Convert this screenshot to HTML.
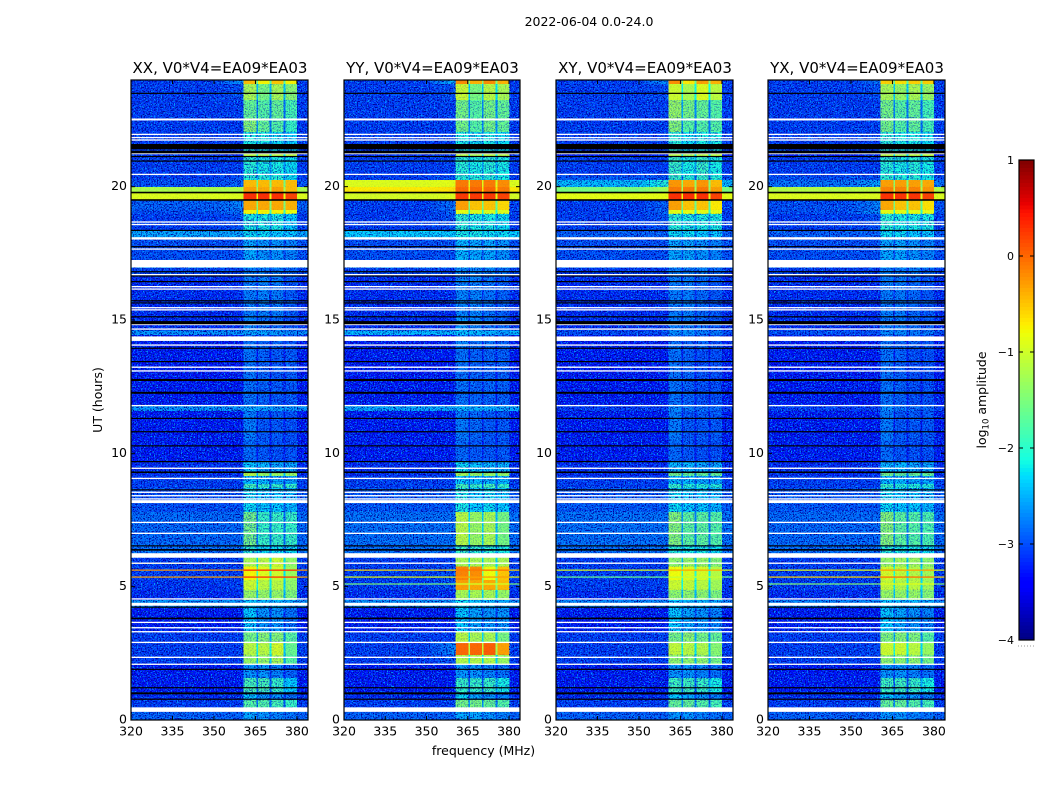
<!DOCTYPE html>
<html lang="en">
<head>
<meta charset="utf-8">
<title>2022-06-04 0.0-24.0</title>
<style>
html,body{margin:0;padding:0;background:#fff;width:1050px;height:800px;overflow:hidden}
svg{display:block}
text{font-family:"DejaVu Sans","Liberation Sans",sans-serif;fill:#000}
</style>
</head>
<body>
<svg id="figure" xmlns="http://www.w3.org/2000/svg" width="1050" height="800" viewBox="0 0 1050 800">
  <defs>
    <filter id="speckle-light" x="0" y="0" width="100%" height="100%" color-interpolation-filters="sRGB">
      <feTurbulence type="fractalNoise" baseFrequency="0.7 0.8" numOctaves="2" seed="4"/>
      <feColorMatrix type="matrix" values="0 0 0 0 0  0 0 0 0 0.62  0 0 0 0 1  7 0 0 0 -3.7"/>
    </filter>
    <filter id="speckle-dark" x="0" y="0" width="100%" height="100%" color-interpolation-filters="sRGB">
      <feTurbulence type="fractalNoise" baseFrequency="0.75 0.7" numOctaves="2" seed="11"/>
      <feColorMatrix type="matrix" values="0 0 0 0 0  0 0 0 0 0  0 0 0 0 0.6  7 0 0 0 -3.6"/>
    </filter>
  </defs>
  <text x="589" y="26" font-size="12.5" text-anchor="middle">2022-06-04 0.0-24.0</text>
  <text x="483.5" y="755" font-size="12.5" text-anchor="middle">frequency (MHz)</text>
  <text transform="translate(102,400) rotate(-90)" font-size="12.5" text-anchor="middle">UT (hours)</text>
  <text transform="translate(986,400) rotate(-90)" font-size="12.5" text-anchor="middle">log<tspan font-size="8.5" dy="2.5">10</tspan><tspan dy="-2.5"> amplitude</tspan></text>
  <g id="panels"></g>
  <g id="colorbar"></g>
</svg>
<script>
// ---- chart data ----
const panelTitles = ["XX, V0*V4=EA09*EA03", "YY, V0*V4=EA09*EA03", "XY, V0*V4=EA09*EA03", "YX, V0*V4=EA09*EA03"];
const freqTicks = [320, 335, 350, 365, 380];
const utTicks = [0, 5, 10, 15, 20];
const colorbarTicks = [1, 0, -1, -2, -3, -4];
// UT hour at the top of each time block (last value closes the final block)
const utEdges = [24,23.85,23.25,22.58,22.05,21.26,21.11,20.4,20.25,19.99,19.8,19.5,19.13,18.98,18.34,18.08,17.25,16.95,16.65,15.15,14.6,14.44,13.95,11.78,11.59,10.5,9.68,9.3,9.15,8.85,8.7,7.8,6.56,6.15,5.75,5.25,4.88,4.5,4.2,3.3,2.93,2.44,2.1,1.58,1.05,0.75,0.3,0];
// frequency edges (MHz): shoulder start, then the four spectral windows
const shoulderStart = 350;
const windowEdges = [[360.6,365.3],[365.9,370.1],[370.8,375.1],[375.8,380.1]];
const freqMin = 320, freqMax = 384;
// log10 amplitude per time block: [off-band, shoulder, window1, window2, window3, window4]
const ampXX = [
[-3.1,-2.6,-0.45,-0.75,-0.5,-0.75],[-3.1,-3,-1.2,-1.5,-1.2,-1.4],[-3.1,-3.1,-1.6,-1.7,-1.6,-1.8],[-3.1,-3.1,-1.4,-1.6,-1.7,-1.9],
[-3.1,-3.1,-2.1,-2.1,-2.2,-2.3],[-3.2,-3.2,-1.1,-1.1,-1.1,-1.1],[-3.1,-3.1,-2,-2.1,-2.1,-2.2],[-3.1,-3,-2,-2,-2,-2.2],
[-3,-2.9,-0.45,-0.45,-0.45,-0.45],[-1.2,-1.2,-0.3,-0.35,-0.3,-0.45],[-0.9,-0.9,0.3,0.3,0.3,0.2],[-2.9,-2.7,-0.35,-0.35,-0.35,-0.4],
[-3,-2.8,-0.75,-0.75,-0.75,-0.8],[-3.1,-3,-2.1,-2.1,-2.1,-2.3],[-2.5,-2.5,-2.2,-2.2,-2.3,-2.3],[-3,-3,-2.5,-2.6,-2.6,-2.7],
[-2.6,-2.6,-2.4,-2.4,-2.5,-2.6],[-3.05,-3.05,-2.75,-2.75,-2.75,-2.85],[-3.2,-3.2,-2.75,-2.7,-2.75,-2.95],[-3.2,-3.2,-2.7,-2.8,-2.85,-3],
[-2.6,-2.6,-2.5,-2.5,-2.55,-2.65],[-3.3,-3.3,-2.8,-2.9,-2.9,-3],[-3.3,-3.3,-2.8,-2.9,-2.95,-2.95],[-2.6,-2.6,-2.5,-2.55,-2.55,-2.6],
[-3.3,-3.3,-2.75,-2.95,-2.95,-3],[-3.3,-3.3,-2.85,-2.95,-3,-3],[-3.2,-3.2,-2.3,-2.4,-2.5,-2.5],[-3.2,-3.2,-1.1,-1.3,-1.3,-1.3],
[-3.1,-3.1,-2.4,-2.4,-2.5,-2.5],[-3.1,-3.1,-1.8,-1.9,-1.9,-1.9],[-3,-3,-2.2,-2.3,-2.3,-2.4],[-2.85,-2.85,-1.5,-1.9,-1.9,-1.9],
[-2.8,-2.8,-2,-2.2,-2.2,-2.2],[-3.1,-3.1,-1.2,-1.1,-1,-1.35],[-3.1,-3.1,-0.75,-0.9,-1,-1.3],[-3.15,-3.1,-1,-1.1,-1.1,-1.35],
[-3.2,-3.2,-1.3,-1.3,-1.3,-1.45],[-2.6,-2.6,-2.3,-2.4,-2.4,-2.5],[-3.3,-3.3,-2.3,-2.6,-2.6,-2.8],[-3.1,-3.1,-1.5,-1.4,-1.4,-1.7],
[-3.1,-3.1,-1.1,-1.1,-0.95,-1.6],[-3.1,-3.1,-1.3,-1.3,-1.2,-1.7],[-3.3,-3.3,-2.6,-2.6,-2.7,-2.9],[-3.3,-3.3,-1.8,-1.8,-1.9,-2.3],
[-3.2,-3.2,-2.3,-2.6,-2.6,-2.8],[-3.1,-3.1,-1.7,-1.7,-1.8,-1.9],[-2.9,-2.9,-2.5,-2.6,-2.7,-2.8]];
const ampYY = [
[-3.1,-2.4,-0.2,-0.4,-0.2,-0.4],[-3.1,-3,-1,-1.5,-1.1,-1.2],[-3.1,-3.1,-1.5,-1.7,-1.5,-1.6],[-3.1,-3.1,-1.5,-1.7,-1.5,-1.6],
[-3.1,-3.1,-2.1,-2.2,-2.1,-2.2],[-3.2,-3.2,-1.1,-1.2,-1.1,-1.1],[-3.1,-3.1,-2,-2.1,-2,-2.1],[-3.1,-3,-2,-2,-2,-2.1],
[-0.9,-0.85,-0.1,-0.1,-0.1,-0.2],[-0.7,-0.65,0,0,0,-0.1],[-0.95,-0.9,0.25,0.25,0.25,0.2],[-3.1,-2.8,-0.3,-0.5,-0.5,-0.6],
[-3.1,-2.9,-0.85,-0.9,-0.9,-0.9],[-3.1,-3,-2,-2.1,-2.1,-2.2],[-2.3,-2.3,-2.1,-2.1,-2.2,-2.2],[-3,-3,-2.4,-2.5,-2.5,-2.6],
[-2.6,-2.6,-2.3,-2.3,-2.4,-2.5],[-3.05,-3.05,-2.65,-2.7,-2.7,-2.8],[-3.2,-3.2,-2.7,-2.7,-2.8,-2.9],[-3.2,-3.2,-2.6,-2.7,-2.8,-2.9],
[-2.4,-2.4,-2.3,-2.35,-2.45,-2.55],[-3.3,-3.3,-2.7,-2.8,-2.8,-2.9],[-3.3,-3.3,-2.8,-2.9,-2.9,-2.9],[-2.5,-2.5,-2.4,-2.45,-2.5,-2.5],
[-3.3,-3.3,-2.75,-2.85,-2.95,-2.95],[-3.3,-3.3,-2.85,-2.95,-2.95,-2.95],[-3.2,-3.2,-2.2,-2.3,-2.4,-2.4],[-3.2,-3.2,-1.2,-1.3,-1.3,-1.3],
[-3.1,-3.1,-2.3,-2.4,-2.4,-2.4],[-3.1,-3.1,-1.8,-1.9,-1.8,-1.9],[-2.95,-2.95,-2.1,-2.3,-2.2,-2.3],[-2.8,-2.8,-1.1,-1.3,-1.2,-1.5],
[-2.8,-2.8,-1.9,-2,-2,-2.1],[-3.1,-3.1,-1.2,-1.2,-1.2,-1.2],[-3.1,-3,-0.15,-0.2,-0.8,-0.5],[-3.1,-3,-0.3,-0.35,-0.35,-0.45],
[-3.2,-3.2,-1.2,-1.2,-1.2,-1.3],[-2.6,-2.6,-2.2,-2.3,-2.4,-2.5],[-3.3,-3.3,-2.3,-2.5,-2.6,-2.6],[-3.1,-3.1,-1.1,-1.2,-1.2,-1.5],
[-3.1,-2.7,0,0,0.05,-0.3],[-3.1,-3,-1.15,-1.15,-1.15,-1.3],[-3.3,-3.3,-2.6,-2.6,-2.7,-2.8],[-3.3,-3.3,-1.9,-1.9,-1.9,-2.1],
[-3.2,-3.2,-2.2,-2.5,-2.6,-2.7],[-3.1,-3.1,-1.5,-1.5,-1.6,-1.7],[-2.9,-2.9,-2.5,-2.5,-2.6,-2.7]];
const ampXY = [
[-3.1,-2.6,-0.2,-0.7,-0.3,-0.4],[-3.1,-3,-1,-1.2,-0.9,-1.1],[-3.1,-3.1,-1.3,-1.5,-1.6,-1.7],[-3.1,-3.1,-1.4,-1.7,-1.7,-1.7],
[-3.1,-3.1,-2,-2.2,-2.1,-2.1],[-3.3,-3.3,-1.1,-1.2,-1.1,-1.1],[-3.1,-3.1,-1.9,-2.1,-1.9,-2.1],[-2.95,-2.95,-1.9,-2,-1.9,-2],
[-2.4,-2,-0.25,-0.35,-0.25,-0.45],[-1.5,-1.25,-0.1,-0.1,-0.1,-0.3],[-0.85,-0.85,0.3,0.3,0.3,0.2],[-3.1,-2.9,-0.3,-0.5,-0.5,-0.7],
[-3.1,-2.9,-0.85,-0.85,-0.85,-0.85],[-3.1,-3,-2,-2.1,-2.1,-2.1],[-2.9,-2.9,-2.2,-2.2,-2.3,-2.3],[-3,-3,-2.5,-2.5,-2.6,-2.7],
[-2.8,-2.8,-2.4,-2.4,-2.5,-2.6],[-3.1,-3.1,-2.75,-2.75,-2.75,-2.85],[-3.2,-3.2,-2.75,-2.75,-2.85,-2.95],[-3.2,-3.2,-2.75,-2.75,-2.85,-2.95],
[-3,-3,-2.65,-2.65,-2.75,-2.75],[-3.3,-3.3,-2.8,-2.9,-2.9,-3],[-3.3,-3.3,-2.8,-2.9,-3,-3],[-3.1,-3.1,-2.65,-2.75,-2.85,-2.85],
[-3.3,-3.3,-2.75,-2.95,-2.95,-2.95],[-3.3,-3.3,-2.85,-2.95,-3,-3],[-3.2,-3.2,-2.4,-2.4,-2.5,-2.5],[-3.2,-3.2,-1.5,-1.6,-1.6,-1.6],
[-3.1,-3.1,-2.4,-2.4,-2.5,-2.5],[-3.1,-3.1,-1.9,-2,-2,-2],[-2.95,-2.95,-2.2,-2.3,-2.3,-2.4],[-2.8,-2.8,-1.4,-1.65,-1.65,-1.7],
[-2.8,-2.8,-2,-2.1,-2.1,-2.2],[-3.1,-3.1,-1.35,-1.3,-1.3,-1.4],[-3.1,-3.1,-0.8,-0.9,-0.95,-1.15],[-3.1,-3.1,-1,-1.05,-1.1,-1.25],
[-3.2,-3.2,-1.35,-1.35,-1.35,-1.45],[-2.7,-2.7,-2.3,-2.4,-2.4,-2.5],[-3.3,-3.3,-2.3,-2.5,-2.6,-2.7],[-3.1,-3.1,-1.5,-1.35,-1.5,-1.6],
[-3.1,-3.1,-1.05,-1.1,-1.15,-1.4],[-3.1,-3.1,-1.35,-1.35,-1.35,-1.5],[-3.3,-3.3,-2.6,-2.6,-2.7,-2.8],[-3.3,-3.3,-1.85,-1.85,-1.9,-2.1],
[-3.2,-3.2,-2.3,-2.5,-2.6,-2.7],[-3.1,-3.1,-1.6,-1.6,-1.7,-1.8],[-2.9,-2.9,-2.6,-2.6,-2.7,-2.8]];
const ampYX = [
[-3.1,-2.8,-0.55,-0.65,-0.55,-0.55],[-3.1,-3,-1.2,-1.3,-1.2,-1.3],[-3.1,-3.1,-1.5,-1.7,-1.6,-1.8],[-3.1,-3.1,-1.5,-1.7,-1.6,-1.8],
[-3.1,-3.1,-2,-2.1,-2.1,-2.2],[-3.3,-3.3,-1.1,-1.2,-1.1,-1.1],[-3.1,-3.1,-2,-2.1,-2,-2.1],[-3,-3,-1.95,-2,-2,-2.1],
[-2.8,-2.5,-0.3,-0.3,-0.3,-0.35],[-1.15,-1.1,-0.15,-0.15,-0.15,-0.25],[-0.9,-0.9,0.28,0.28,0.28,0.2],[-3,-2.7,-0.35,-0.5,-0.5,-0.65],
[-3,-2.6,-0.85,-0.85,-0.85,-0.85],[-3.1,-3,-2,-2.1,-2.1,-2.1],[-2.9,-2.9,-2.2,-2.2,-2.3,-2.3],[-3,-3,-2.5,-2.5,-2.6,-2.7],
[-2.8,-2.8,-2.4,-2.4,-2.5,-2.6],[-3.1,-3.1,-2.75,-2.75,-2.75,-2.85],[-3.2,-3.2,-2.75,-2.75,-2.85,-2.95],[-3.2,-3.2,-2.75,-2.75,-2.85,-2.95],
[-3,-3,-2.65,-2.65,-2.75,-2.75],[-3.3,-3.3,-2.8,-2.9,-2.9,-3],[-3.3,-3.3,-2.8,-2.9,-3,-3],[-3.1,-3.1,-2.65,-2.75,-2.85,-2.85],
[-3.3,-3.3,-2.75,-2.95,-2.95,-2.95],[-3.3,-3.3,-2.85,-2.95,-3,-3],[-3.2,-3.2,-2.4,-2.4,-2.5,-2.5],[-3.2,-3.2,-1.5,-1.6,-1.6,-1.6],
[-3.1,-3.1,-2.4,-2.4,-2.5,-2.5],[-3.1,-3.1,-1.9,-2,-2,-2],[-2.95,-2.95,-2.2,-2.3,-2.3,-2.4],[-2.85,-2.85,-1.4,-1.65,-1.7,-1.75],
[-2.8,-2.8,-2,-2.1,-2.1,-2.2],[-3.1,-3.1,-1.3,-1.25,-1.25,-1.35],[-3.1,-3.1,-0.95,-1.05,-1.15,-1.25],[-3.1,-3.1,-1.05,-1.15,-1.1,-1.25],
[-3.2,-3.2,-1.3,-1.3,-1.3,-1.4],[-2.7,-2.7,-2.3,-2.4,-2.4,-2.5],[-3.3,-3.3,-2.3,-2.5,-2.6,-2.7],[-3.1,-3.1,-1.45,-1.4,-1.45,-1.7],
[-3.1,-3.05,-1,-1,-1.1,-1.3],[-3.1,-3.1,-1.35,-1.35,-1.35,-1.5],[-3.3,-3.3,-2.6,-2.6,-2.7,-2.8],[-3.3,-3.3,-1.85,-1.85,-1.9,-2.1],
[-3.2,-3.2,-2.3,-2.5,-2.6,-2.7],[-3.1,-3.1,-1.6,-1.6,-1.7,-1.8],[-2.9,-2.9,-2.6,-2.6,-2.7,-2.8]];
const panelAmps = [ampXX, ampYY, ampXY, ampYX];
// narrow bright RFI rows: [UT hour, log10 amplitude]
const rfiXX = [[5.88,-0.55],[5.62,-0.25],[5.36,-0.3]];
const rfiYY = [[5.62,-0.6],[5.36,-0.85],[5.1,-1.5]];
const rfiXY = [[5.62,-0.9],[5.36,-1.6]];
const rfiYX = [[5.62,-0.85],[5.36,-0.6],[5.1,-1.45]];
const panelRfi = [rfiXX, rfiYY, rfiXY, rfiYX];
// flagged rows: [UT hour, width in hours]
const whiteFlags = [[22.52,0.075],[21.96,0.05],[21.84,0.05],[21.75,0.05],[21.24,0.05],[20.46,0.05],[18.675,0.05],[18.58,0.05],[18.06,0.09],[17.66,0.05],[17.11,0.28],[16.7,0.05],[16.25,0.05],[16.16,0.05],[15.46,0.05],[15.38,0.05],[14.83,0.05],[14.66,0.05],[14.3,0.17],[14.06,0.05],[13.23,0.05],[13.09,0.05],[11.79,0.05],[9.44,0.05],[9.06,0.05],[8.54,0.05],[8.41,0.05],[8.29,0.05],[8.19,0.11],[7.41,0.05],[7,0.05],[6.17,0.17],[5.88,0.05],[4.54,0.05],[4.34,0.11],[3.66,0.05],[3.46,0.05],[3.31,0.05],[2.91,0.05],[2.35,0.05],[2.09,0.05],[0.39,0.17]];
const blackFlags = [[23.5,0.045],[21.5,0.2],[21.3,0.1],[21.13,0.045],[20.96,0.045],[19.78,0.06],[19.5,0.06],[18.36,0.045],[17.75,0.045],[16.81,0.045],[16.65,0.045],[16.44,0.045],[15.72,0.045],[15.64,0.045],[15.12,0.045],[14.9,0.12],[13.94,0.045],[13.44,0.045],[12.75,0.075],[12.27,0.075],[11.31,0.045],[10.81,0.045],[10.28,0.045],[9.69,0.045],[9.29,0.06],[8.63,0.045],[6.53,0.045],[6.38,0.06],[4.23,0.045],[3.81,0.06],[1.9,0.045],[1.21,0.045],[1,0.075],[0.78,0.045]];

// ---- layout ----
const SVG_NS = "http://www.w3.org/2000/svg";
const panelLeft = [131, 344, 556, 768];
const panelWidth = [177, 176, 177, 177];
const plotTop = 80, plotBottom = 720;
const barLeft = 1019, barRight = 1034, barTop = 160, barBottom = 640;
const logMin = -4, logMax = 1;

// ---- scales ----
function xScale(panel, f) { return panelLeft[panel] + (f - freqMin) / (freqMax - freqMin) * panelWidth[panel]; }
function yScale(ut) { return plotBottom - ut / 24 * (plotBottom - plotTop); }
function barScale(v) { return barBottom - (v - logMin) / (logMax - logMin) * (barBottom - barTop); }
function piece(t, pts) {
  for (let i = 1; i < pts.length; i++) {
    if (t <= pts[i][0]) return pts[i-1][1] + (t - pts[i-1][0]) / (pts[i][0] - pts[i-1][0]) * (pts[i][1] - pts[i-1][1]);
  }
  return pts[pts.length-1][1];
}
function jet(log) {
  const t = Math.max(0, Math.min(1, (log - logMin) / (logMax - logMin)));
  const r = piece(t, [[0,0],[0.35,0],[0.66,1],[0.89,1],[1,0.5]]);
  const g = piece(t, [[0,0],[0.125,0],[0.375,1],[0.64,1],[0.91,0],[1,0]]);
  const b = piece(t, [[0,0.5],[0.11,1],[0.34,1],[0.65,0],[1,0]]);
  return "rgb(" + Math.round(r*255) + "," + Math.round(g*255) + "," + Math.round(b*255) + ")";
}
function make(tag, parent, attrs) {
  const el = document.createElementNS(SVG_NS, tag);
  for (const k in attrs) el.setAttribute(k, attrs[k]);
  parent.appendChild(el);
  return el;
}
function cell(parent, x0, x1, y0, y1, fill) {
  const el = make("rect", parent, { x: x0, y: y0, width: x1 - x0, height: y1 - y0, fill: fill, "shape-rendering": "crispEdges" });
  
  
  return el;
}
function noiseRect(parent, x0, x1, y0, y1, filterId, opacity) {
  const el = make("rect", parent, { x: x0, y: y0, width: x1 - x0, height: y1 - y0, filter: "url(#" + filterId + ")", opacity: opacity });
  
  
  return el;
}

// ---- panels ----
const panelsRoot = document.getElementById("panels");
panelTitles.forEach(function (title, p) {
  const group = make("g", panelsRoot, {});
  
  
  const left = panelLeft[p], right = left + panelWidth[p];
  const cells = make("g", group, {});
  
  
  const amps = panelAmps[p];
  const bandLeft = xScale(p, windowEdges[0][0]), bandRight = xScale(p, windowEdges[3][1]);
  amps.forEach(function (row, i) {
    const y0 = yScale(utEdges[i]), y1 = yScale(utEdges[i + 1]);
    const off = row[0], sh = row[1];
    cell(cells, left, xScale(p, shoulderStart), y0, y1, jet(off));
    const steps = 6, span = windowEdges[0][0] - shoulderStart;
    for (let s = 0; s < steps; s++) {
      const f0 = shoulderStart + span * s / steps, f1 = shoulderStart + span * (s + 1) / steps;
      cell(cells, xScale(p, f0), xScale(p, f1), y0, y1, jet(off + (sh - off) * (s + 1) / steps));
    }
    windowEdges.forEach(function (w, k) {
      cell(cells, xScale(p, w[0]), xScale(p, w[1]), y0, y1, jet(row[k + 2]));
      if (k < windowEdges.length - 1) {
        const mean = (row[k + 2] + row[k + 3]) / 2;
        const drop = mean > -2 ? 1.1 : 0.5;
        cell(cells, xScale(p, w[1]), xScale(p, windowEdges[k + 1][0]), y0, y1, jet(Math.max(off, mean - drop)));
      }
    });
    cell(cells, bandRight, right, y0, y1, jet(off));
  });

  // speckle texture: strength follows each row's level (bright rows are smooth)
  const noise = make("g", group, {});
  
  
  ["speckle-light", "speckle-dark"].forEach(function (fid) {
    amps.forEach(function (row, i) {
      const y0 = yScale(utEdges[i]), y1 = yScale(utEdges[i + 1]);
      const offStrength = Math.max(0.06, Math.min(1, -1.6 - row[0]));
      noiseRect(noise, left, bandLeft, y0, y1, fid, offStrength);
      noiseRect(noise, bandRight, right, y0, y1, fid, offStrength);
      const mean = (row[2] + row[3] + row[4] + row[5]) / 4;
      const strength = Math.max(0.05, Math.min(0.85, 0.05 + (-1 - mean) * 0.6));
      noiseRect(noise, bandLeft, bandRight, y0, y1, fid, strength);
    });
  });

  // RFI rows
  panelRfi[p].forEach(function (r) {
    const line = make("rect", group, { x: left, y: yScale(r[0]) - 0.6, width: panelWidth[p], height: 1.2, fill: jet(r[1]) });
    
    
    const hot = make("rect", group, { x: bandLeft, y: yScale(r[0]) - 0.6, width: bandRight - bandLeft, height: 1.2, fill: jet(r[1] + 0.6) });
    
    
  });

  // flagged rows
  whiteFlags.forEach(function (r) {
    const h = r[1] / 24 * (plotBottom - plotTop);
    const flag = make("rect", group, { x: left, y: yScale(r[0]) - h / 2, width: panelWidth[p], height: h, fill: "#fff" });
    
    
  });
  blackFlags.forEach(function (r) {
    const h = r[1] / 24 * (plotBottom - plotTop);
    const flag = make("rect", group, { x: left, y: yScale(r[0]) - h / 2, width: panelWidth[p], height: h, fill: "#000" });
    
    
  });

  // frame
  const frame = make("rect", group, { x: left, y: plotTop, width: panelWidth[p], height: plotBottom - plotTop, fill: "none", stroke: "#000", "stroke-width": 1.2 });
  
  

  // x ticks
  freqTicks.forEach(function (f) {
    const x = xScale(p, f);
    const bottomTick = make("line", group, { x1: x, x2: x, y1: plotBottom, y2: plotBottom - 4, stroke: "#000" });
    
    
    const topTick = make("line", group, { x1: x, x2: x, y1: plotTop, y2: plotTop + 4, stroke: "#000" });
    
    
    const label = make("text", group, { x: x, y: 735.5, "font-size": 12.5, "text-anchor": "middle" });
    label.textContent = String(f);
    
    
  });

  // y ticks
  utTicks.forEach(function (u) {
    const y = yScale(u);
    const leftTick = make("line", group, { x1: left, x2: left + 4, y1: y, y2: y, stroke: "#000" });
    
    
    const rightTick = make("line", group, { x1: right, x2: right - 4, y1: y, y2: y, stroke: "#000" });
    
    
    const label = make("text", group, { x: left - 4, y: y + 3.5, "font-size": 12.5, "text-anchor": "end" });
    label.textContent = String(u);
    
    
  });

  // title
  const t = make("text", group, { x: left + panelWidth[p] / 2 + 0.5, y: 73, "font-size": 15, "text-anchor": "middle" });
  t.textContent = title;
  
  
});

// ---- colorbar ----
const barRoot = document.getElementById("colorbar");
const levels = 128;
for (let i = 0; i < levels; i++) {
  const v0 = logMin + (logMax - logMin) * i / levels;
  const v1 = logMin + (logMax - logMin) * (i + 1) / levels;
  const swatch = make("rect", barRoot, { x: barLeft, y: barScale(v1), width: barRight - barLeft, height: barScale(v0) - barScale(v1) + 0.5, fill: jet((v0 + v1) / 2), "shape-rendering": "crispEdges" });
  
  
}
const barFrame = make("rect", barRoot, { x: barLeft, y: barTop, width: barRight - barLeft, height: barBottom - barTop, fill: "none", stroke: "#000", "stroke-width": 1.2 });


colorbarTicks.forEach(function (v) {
  const y = barScale(v);
  const leftTick = make("line", barRoot, { x1: barLeft, x2: barLeft + 4, y1: y, y2: y, stroke: "#000" });
  
  
  const rightTick = make("line", barRoot, { x1: barRight, x2: barRight - 4, y1: y, y2: y, stroke: "#000" });
  
  
  const label = make("text", barRoot, { x: 1014, y: y + 4, "font-size": 11, "text-anchor": "end" });
  label.textContent = String(v).replace("-", "\u2212");
  
  
});
const dots = make("line", barRoot, { x1: 1018, x2: 1035, y1: 646, y2: 646, stroke: "#999", "stroke-width": 1, "stroke-dasharray": "1 2" });


</script>
</body>
</html>
